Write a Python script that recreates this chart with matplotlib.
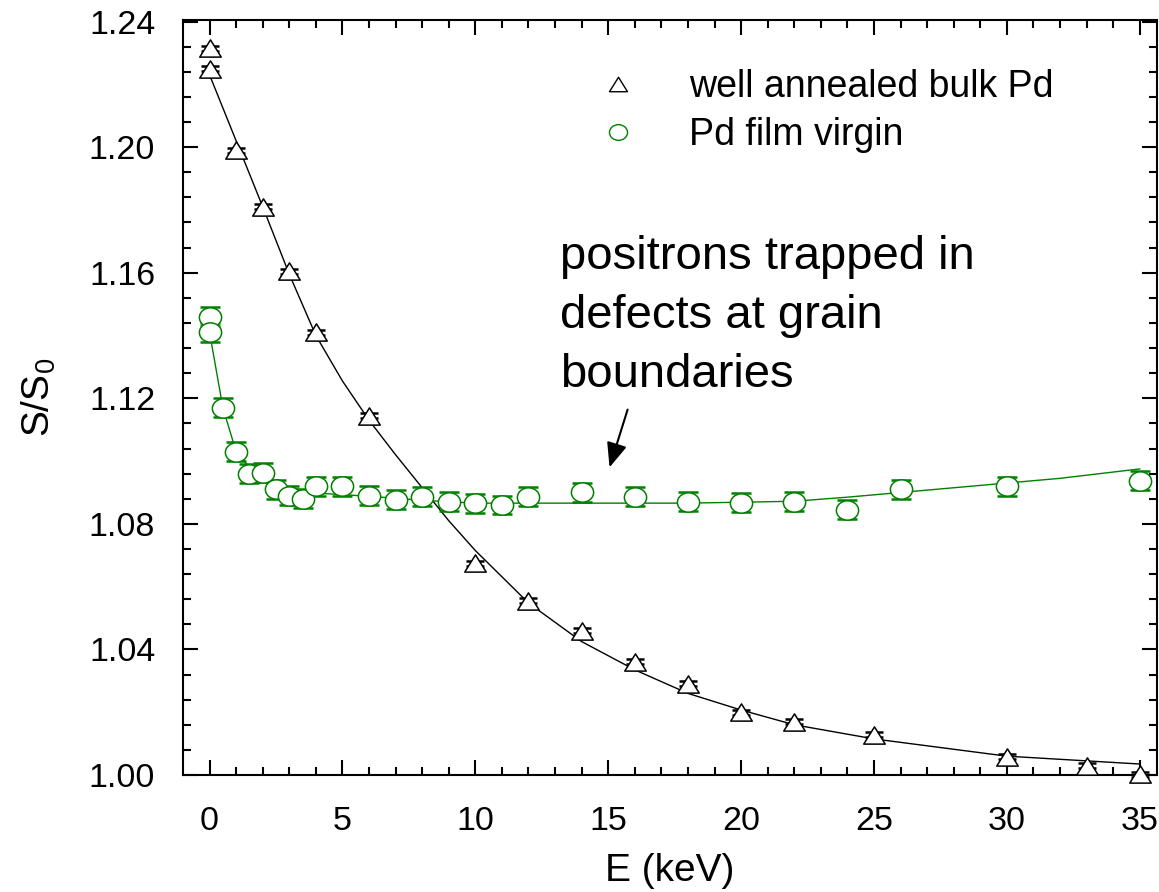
import numpy as np
import matplotlib
matplotlib.use('Agg')
import matplotlib.pyplot as plt
from matplotlib.lines import Line2D
from matplotlib.path import Path
from matplotlib.transforms import Affine2D

plt.rcParams['font.family'] = ['Liberation Sans', 'DejaVu Sans']
plt.rcParams['mathtext.fontset'] = 'custom'
plt.rcParams['mathtext.rm'] = 'Liberation Sans'

# well annealed bulk Pd (triangles)
bulk_E = [0, 0, 1, 2, 3, 4, 6, 10, 12, 14, 16, 18, 20, 22, 25, 30, 33, 35]
bulk_S = [1.2315, 1.2249, 1.199, 1.181, 1.1605, 1.141, 1.1145, 1.0675, 1.0555, 1.046,
          1.036, 1.029, 1.020, 1.017, 1.0128, 1.0058, 1.003, 1.0003]
bulk_err = [0.0008] * len(bulk_E)

# fitted curve for bulk Pd
bulk_fit_E = [0, 1, 2, 3, 4, 5, 6, 7, 8, 9, 10, 12, 14, 16, 18, 20, 22, 25, 30, 35]
bulk_fit_S = [1.223, 1.202, 1.181, 1.1595, 1.140, 1.1255, 1.113, 1.102, 1.0915, 1.081,
              1.0715, 1.0548, 1.0425, 1.0335, 1.026, 1.0207, 1.016, 1.0115, 1.006, 1.0035]

# Pd film virgin (circles)
film_E = [0, 0, 0.5, 1, 1.5, 2, 2.5, 3, 3.5, 4, 5, 6, 7, 8, 9, 10, 11, 12,
          14, 16, 18, 20, 22, 24, 26, 30, 35]
film_S = [1.146, 1.141, 1.117, 1.103, 1.096, 1.0963, 1.091, 1.089, 1.088, 1.092,
          1.092, 1.089, 1.0877, 1.0887, 1.087, 1.0865, 1.086, 1.0887,
          1.090, 1.0887, 1.087, 1.0868, 1.087, 1.0845, 1.091, 1.092, 1.0938]
film_err = [0.003] * len(film_E)

# fitted curve for the film
film_fit_E = [0, 0.5, 1, 1.5, 2, 2.5, 3, 4, 6, 8, 10, 14, 18, 22, 24, 26, 28, 30, 32, 35]
film_fit_S = [1.141, 1.117, 1.103, 1.098, 1.095, 1.093, 1.0915, 1.0898, 1.0888, 1.0875,
              1.0866, 1.0866, 1.0866, 1.0872, 1.0885, 1.0900, 1.0915, 1.093, 1.0945, 1.0975]

green = '#008000'

tri = Path([(0, 0.8), (-1, -0.8), (1, -0.8), (0, 0.8)],
           [Path.MOVETO, Path.LINETO, Path.LINETO, Path.CLOSEPOLY])
ell = Path.unit_circle().transformed(Affine2D().scale(1.15, 1.0))

fig = plt.figure(figsize=(11.59, 8.92), dpi=100)
ax = fig.add_axes([183 / 1159, 1 - 775 / 892, (1157 - 183) / 1159, (775 - 20) / 892])

ax.plot(bulk_fit_E, bulk_fit_S, color='black', lw=1.0, zorder=2)
ax.plot(film_fit_E, film_fit_S, color=green, lw=1.0, zorder=2)

eb = ax.errorbar(bulk_E, bulk_S, yerr=bulk_err, fmt='none', ecolor='black',
                 elinewidth=1, capsize=6.5, capthick=1.8, zorder=3)
for c in eb.lines[1]:
    c.set_clip_on(False)
ax.plot(bulk_E, bulk_S, ls='none', marker=tri, ms=15.5, mfc='white', mec='black',
        mew=1.1, zorder=4, clip_on=False)

ax.errorbar(film_E, film_S, yerr=film_err, fmt='none', ecolor=green,
            elinewidth=1, capsize=7, capthick=1.8, zorder=3)
ax.plot(film_E, film_S, ls='none', marker=ell, ms=16, mfc='white', mec=green,
        mew=1.1, zorder=4)

ax.set_xlim(-1.0, 35.65)
ax.set_ylim(1.0, 1.2405)
ax.set_xticks(np.arange(0, 36, 5))
ax.set_xticks(np.arange(0, 36, 1), minor=True)
ax.set_yticks([1.00, 1.04, 1.08, 1.12, 1.16, 1.20, 1.24])
ax.set_yticks(np.arange(1.0, 1.2401, 0.008), minor=True)
ax.set_yticklabels(['1.00', '1.04', '1.08', '1.12', '1.16', '1.20', '1.24'])

ax.tick_params(which='both', direction='in', top=True, right=True, width=1.5)
ax.tick_params(which='major', length=11, labelsize=24.5)
ax.tick_params(which='minor', length=6)
ax.tick_params(axis='y', pad=20)
ax.tick_params(axis='x', pad=22)
for s in ax.spines.values():
    s.set_linewidth(1.5)

ax.set_xlabel('E (keV)', fontsize=28, labelpad=12)
ax.set_ylabel('S/S$_0$', fontsize=28, labelpad=22)

handles = [Line2D([], [], ls='none', marker=tri, ms=13, mfc='white', mec='black', mew=1),
           Line2D([], [], ls='none', marker=ell, ms=13, mfc='white', mec=green, mew=1)]
ax.legend(handles, ['well annealed bulk Pd', 'Pd film virgin'], loc='upper left',
          bbox_to_anchor=(0.427, 0.935), frameon=False, fontsize=27,
          handlelength=1.0, handletextpad=1.4, labelspacing=0.32, borderpad=0,
          borderaxespad=0)

ax.text(13.17, 1.1235, 'positrons trapped in\ndefects at grain\nboundaries',
        fontsize=34, va='baseline', ha='left', linespacing=1.44)
ax.annotate('', xy=(15.05, 1.098), xytext=(15.73, 1.1164),
            arrowprops=dict(arrowstyle='-|>,head_length=0.6,head_width=0.25',
                            color='black', lw=1.5, mutation_scale=25,
                            shrinkA=0, shrinkB=0))

fig.savefig('out.png', dpi=100)
